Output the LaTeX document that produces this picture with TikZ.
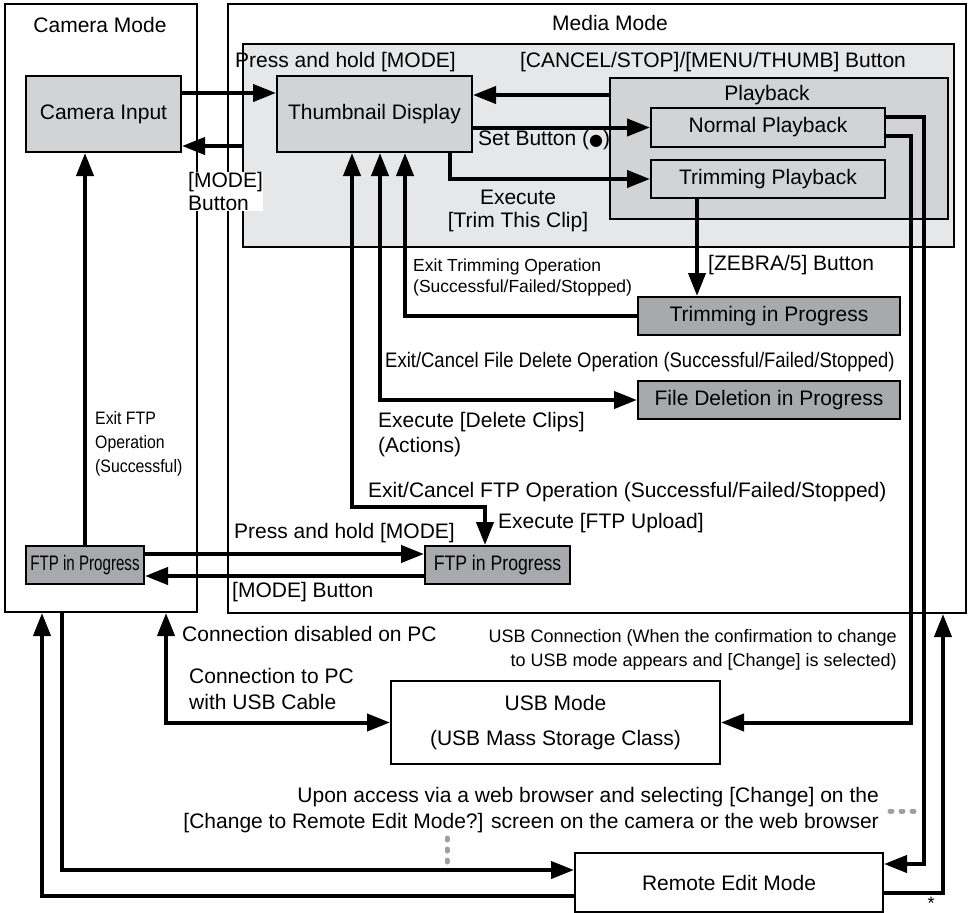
\documentclass[tikz,border=0pt]{standalone}
\usepackage{fontspec}
\setmainfont{Liberation Sans}
\newfontfamily\symfont{DejaVu Sans}
\usepackage{graphicx}
\usetikzlibrary{arrows.meta}
\definecolor{areagray}{HTML}{E6E7E8}
\definecolor{boxgray}{HTML}{D1D3D4}
\definecolor{progray}{HTML}{A7A9AC}
\definecolor{dotgray}{HTML}{9D9FA2}
\newcommand{\cond}[2]{\scalebox{#1}[1]{#2}}
\tikzset{
  every node/.style={font=\fontsize{21}{23}\selectfont},
  frame/.style={draw,line width=2pt,inner sep=0pt},
  box/.style={frame,fill=boxgray},
  prog/.style={frame,fill=progray},
  lbl/.style={inner sep=0pt},
  small/.style={font=\fontsize{18}{24}\selectfont},
  smaller/.style={font=\fontsize{17.5}{21}\selectfont},
  arr/.style={line width=4pt,->},
  dbl/.style={line width=4pt,<->},
  dots/.style={line width=5pt,dotgray,line cap=round,dash pattern=on 2pt off 9pt}
}
\begin{document}
\begin{tikzpicture}[x=1pt,y=-1pt,>={Triangle[length=23pt,width=17pt]}]
\useasboundingbox (0,0) rectangle (970,913);
\node[frame,minimum width=192pt,minimum height=608pt] (camMode) at (101,308) {};
\node[frame,minimum width=738pt,minimum height=609pt] (mediaMode) at (597,308.5) {};
\node[frame,fill=areagray,minimum width=711pt,minimum height=203pt] (thumbArea) at (598.5,145.5) {};
\node[box,minimum width=338pt,minimum height=141pt] (playback) at (779,148.5) {};
\node[box,minimum width=155pt,minimum height=76pt] (camIn) at (103.5,114) {Camera Input};
\node[box,minimum width=195pt,minimum height=76pt] (thumb) at (374.5,114) {Thumbnail Display};
\node[box,minimum width=234pt,minimum height=39pt] (normPlay) at (768,127.5) {Normal Playback};
\node[box,minimum width=234pt,minimum height=38pt] (trimPlay) at (768,179) {Trimming Playback};
\node[prog,minimum width=262pt,minimum height=38pt] (trimProg) at (769,316) {Trimming in Progress};
\node[prog,minimum width=262pt,minimum height=38pt] (delProg) at (769,400) {File Deletion in Progress};
\node[prog,minimum width=118pt,minimum height=38pt] (ftpCam) at (85,565) {\cond{0.72}{FTP in Progress}};
\node[prog,minimum width=145pt,minimum height=38pt] (ftpMed) at (497.5,565) {\cond{0.84}{FTP in Progress}};
\node[frame,fill=white,minimum width=329pt,minimum height=83pt,align=center] (usbMode) at (555.5,722.5) {USB Mode\\[12pt](USB Mass Storage Class)};
\node[frame,fill=white,minimum width=308pt,minimum height=59pt] (remEdit) at (729,882.5) {Remote Edit Mode};
\node[lbl] (camModeLbl) at (100,25) {Camera Mode};
\node[lbl] (mediaModeLbl) at (610,23) {Media Mode};
\node[lbl,anchor=west] (holdTop) at (235,62) {Press and hold [MODE]};
\node[lbl] (cancelLbl) at (713,62) {[CANCEL/STOP]/[MENU/THUMB] Button};
\node[lbl] (playLbl) at (767,95) {Playback};
\node[lbl,anchor=west,align=left,fill=white] (modeTop) at (188,191.5) {[MODE]\\Button};
\node[lbl,anchor=west] (setLbl) at (478,140) {Set Button ({\symfont\fontsize{16}{20}\selectfont ●})};
\node[lbl,align=center] (trimExec) at (518,211) {Execute\\{}[Trim This Clip]};
\node[lbl,anchor=west] (zebraLbl) at (708,265) {[ZEBRA/5] Button};
\node[lbl,anchor=west,align=left,smaller] (trimExit) at (413,277.5) {Exit Trimming Operation\\(Successful/Failed/Stopped)};
\node[lbl,anchor=west] (delExit) at (385,362) {\cond{0.88}{Exit/Cancel File Delete Operation (Successful/Failed/Stopped)}};
\node[lbl,anchor=west,align=left] (delExec) at (378,434.5) {Execute [Delete Clips]\\[2pt](Actions)};
\node[lbl,anchor=west] (ftpExit) at (368,492) {Exit/Cancel FTP Operation (Successful/Failed/Stopped)};
\node[lbl,anchor=west] (ftpExec) at (498,523) {Execute [FTP Upload]};
\node[lbl,anchor=west,align=left,small] (ftpCamExit) at (95,444) {\cond{0.88}{Exit FTP}\\\cond{0.88}{Operation}\\\cond{0.88}{(Successful)}};
\node[lbl,anchor=west] (holdBot) at (234,533) {Press and hold [MODE]};
\node[lbl,anchor=west] (modeBot) at (232,592) {[MODE] Button};
\node[lbl,anchor=west] (pcOff) at (182,634) {Connection disabled on PC};
\node[lbl,anchor=east,align=right,small] (usbConn) at (897,649.5) {USB Connection (When the confirmation to change\\to USB mode appears and [Change] is selected)};
\node[lbl,anchor=west,align=left] (pcOn) at (189,689) {Connection to PC\\[3pt]with USB Cable};
\node[lbl,anchor=east,align=right] (webLbl) at (879,810) {Upon access via a web browser and selecting [Change] on the\\[3pt]{}[Change to Remote Edit Mode?] screen on the camera or the web browser};
\node[lbl,small] (star) at (931,903) {*};
\draw[dots] (447,838) -- (447,866);
\draw[dots] (890,811) -- (918,811);
\draw[arr] ([yshift=21pt]camIn.east) -- ([yshift=21pt]thumb.west);
\draw[arr] ([yshift=-32pt]camIn.east -| thumbArea.west) -- ([yshift=-32pt]camIn.east);
\draw[arr] ([yshift=19pt]thumb.east -| playback.west) -- ([yshift=19pt]thumb.east);
\draw[arr] (thumb.east |- normPlay.west) -- (normPlay.west);
\draw[arr] ([xshift=75.5pt]thumb.south) |- (trimPlay.west);
\draw[arr] ([xshift=-71pt]trimPlay.south) -- ([xshift=-71pt]trimPlay.south |- trimProg.north);
\draw[arr] (trimProg.west) -| ([xshift=30.5pt]thumb.south);
\draw[dbl] ([xshift=5.5pt]thumb.south) |- (delProg.west);
\draw[dbl] ([xshift=-22.5pt]thumb.south) |- ([xshift=-12.5pt,yshift=38pt]ftpMed.north) -- ([xshift=-12.5pt]ftpMed.north);
\draw[arr] ([yshift=11pt]ftpCam.east) -- ([yshift=11pt]ftpMed.west);
\draw[arr] ([yshift=-11pt]ftpMed.west) -- ([yshift=-11pt]ftpCam.east);
\draw[arr] (ftpCam.north) -- (ftpCam.north |- camIn.south);
\draw[arr] ([yshift=10.5pt]normPlay.east) -| ([xshift=40pt,yshift=18.5pt]remEdit.east) -- ([yshift=18.5pt]remEdit.east);
\draw[arr] ([yshift=-8.5pt]normPlay.east) -| ([xshift=190pt]usbMode.east) -- (usbMode.east);
\draw[arr] ([yshift=-10.5pt]remEdit.east) -| ([xshift=346pt]mediaMode.south);
\draw[dbl] ([xshift=65pt]camMode.south) |- (usbMode.west);
\draw[arr] ([xshift=-39pt]camMode.south) |- ([yshift=12.5pt]remEdit.west);
\draw[arr] ([yshift=-13.5pt]remEdit.west) -| ([xshift=-59pt]camMode.south);
\end{tikzpicture}
\end{document}
